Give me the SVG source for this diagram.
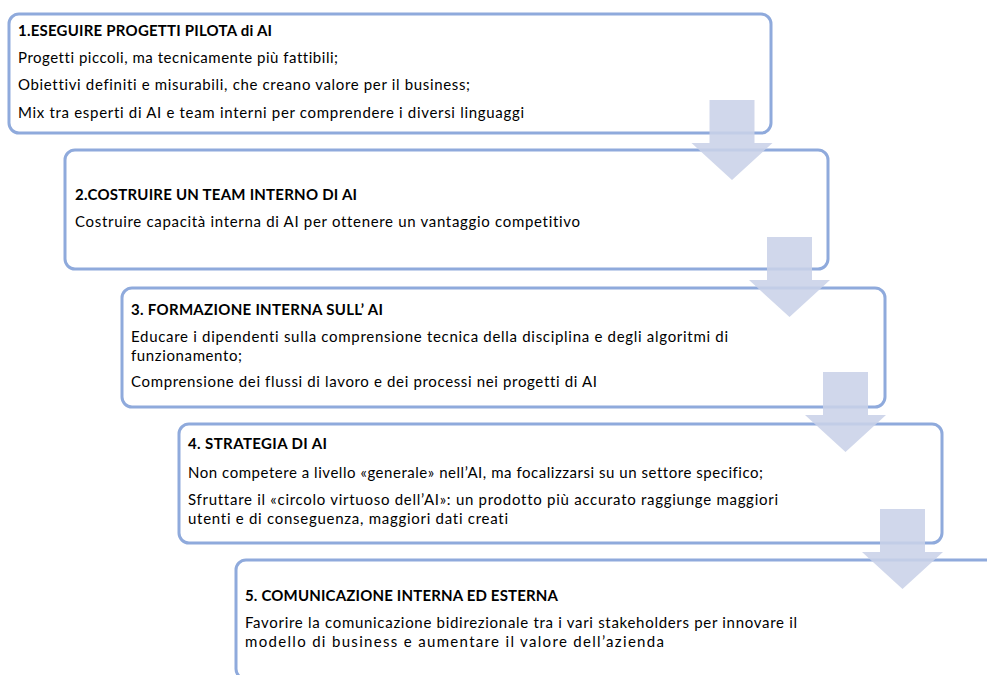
<svg xmlns="http://www.w3.org/2000/svg" width="987" height="675" viewBox="0 0 987 675">
<style>
.box{fill:#ffffff;stroke:#8FAADC;stroke-width:3}
.t{font-family:Lato,"Open Sans","Liberation Sans",sans-serif;font-size:15px;fill:#000000;font-variant-ligatures:none;font-feature-settings:"liga" 0,"clig" 0,"dlig" 0}
.h{font-weight:bold}
.arrow{fill:#CAD2E8;opacity:0.88}
</style>
<rect width="987" height="675" fill="#ffffff"/>
<g id="node1">
<rect class="box" x="9" y="14" width="762" height="119" rx="10"/>
<text class="t h" x="18" y="36" textLength="254">1.ESEGUIRE PROGETTI PILOTA di AI</text>
<text class="t" x="18" y="63" textLength="320">Progetti piccoli, ma tecnicamente più fattibili;</text>
<text class="t" x="18" y="90" textLength="452">Obiettivi definiti e misurabili, che creano valore per il business;</text>
<text class="t" x="18" y="118" textLength="506">Mix tra esperti di AI e team interni per comprendere i diversi linguaggi</text>
</g>
<g id="node2">
<rect class="box" x="65" y="150" width="763" height="119" rx="10"/>
<text class="t h" x="75" y="200" textLength="282">2.COSTRUIRE UN TEAM INTERNO DI AI</text>
<text class="t" x="75" y="227" textLength="505">Costruire capacità interna di AI per ottenere un vantaggio competitivo</text>
</g>
<g id="node3">
<rect class="box" x="122" y="288" width="763" height="119" rx="10"/>
<text class="t h" x="131" y="315" textLength="252">3. FORMAZIONE INTERNA SULL’ AI</text>
<text class="t" x="131" y="342" textLength="597">Educare i dipendenti sulla comprensione tecnica della disciplina e degli algoritmi di</text>
<text class="t" x="131" y="361" textLength="111">funzionamento;</text>
<text class="t" x="131" y="387" textLength="466">Comprensione dei flussi di lavoro e dei processi nei progetti di AI</text>
</g>
<g id="node4">
<rect class="box" x="179" y="424" width="763" height="119" rx="10"/>
<text class="t h" x="188" y="449" textLength="139">4. STRATEGIA DI AI</text>
<text class="t" x="188" y="478" textLength="575">Non competere a livello «generale» nell’AI, ma focalizzarsi su un settore specifico;</text>
<text class="t" x="188" y="505" textLength="590">Sfruttare il «circolo virtuoso dell’AI»: un prodotto più accurato raggiunge maggiori</text>
<text class="t" x="188" y="524" textLength="320">utenti e di conseguenza, maggiori dati creati</text>
</g>
<g id="node5">
<rect class="box" x="236" y="560" width="763" height="119" rx="10"/>
<text class="t h" x="245" y="601" textLength="313">5. COMUNICAZIONE INTERNA ED ESTERNA</text>
<text class="t" x="245" y="628" textLength="552">Favorire la comunicazione bidirezionale tra i vari stakeholders per innovare il</text>
<text class="t" x="245" y="647" textLength="419">modello di business e aumentare il valore dell’azienda</text>
</g>
<g id="connectors">
<path class="arrow" d="M709.5,100 h45 v43 h18 l-40.5,37 l-40.5,-37 h18 z"/>
<path class="arrow" d="M767,237 h45 v43 h18 l-40.5,37 l-40.5,-37 h18 z"/>
<path class="arrow" d="M823,372 h45 v43 h18 l-40.5,37 l-40.5,-37 h18 z"/>
<path class="arrow" d="M880,509 h45 v43 h18 l-40.5,37 l-40.5,-37 h18 z"/>
</g>
</svg>
